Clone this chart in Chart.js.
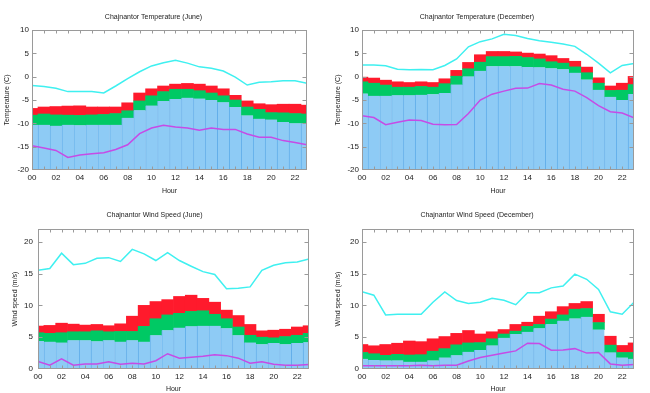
<!DOCTYPE html>
<html><head><meta charset="utf-8">
<script src="https://cdn.jsdelivr.net/npm/chart.js@4/dist/chart.umd.min.js"></script>
<style>
html,body{margin:0;padding:0;background:#fff;}
#wrap{position:relative;width:650px;height:393px;overflow:hidden;background:#fff;}
.p{position:absolute;}
canvas{display:block;}
</style></head><body>
<div id="wrap">
<div class="p" style="left:0;top:0;"><canvas id="c1" width="320" height="196"></canvas></div>
<div class="p" style="left:320px;top:0;"><canvas id="c2" width="330" height="196"></canvas></div>
<div class="p" style="left:0;top:196px;"><canvas id="c3" width="320" height="197"></canvas></div>
<div class="p" style="left:320px;top:196px;"><canvas id="c4" width="330" height="197"></canvas></div>
</div>
<script>
// ---------------- data ----------------
const hours = [0,1,2,3,4,5,6,7,8,9,10,11,12,13,14,15,16,17,18,19,20,21,22,23];
const xTickValues = [0,2,4,6,8,10,12,14,16,18,20,22];
const xTickLabels = ['00','02','04','06','08','10','12','14','16','18','20','22'];
const tempTicks = [-20,-15,-10,-5,0,5,10];
const windTicks = [0,5,10,15,20];

// Temperature, June (C)
const tempJuneLow  = [-10.3,-10.3,-10.5,-10.3,-10.4,-10.3,-10.3,-10.3,-8.8,-7.2,-6.2,-5.2,-4.8,-4.5,-4.7,-5.0,-5.5,-6.5,-8.3,-9.0,-9.2,-9.7,-10.0,-10.0];
const tempJuneMid  = [-8.25,-8.0,-8.2,-8.25,-8.3,-8.2,-8.1,-7.9,-7.3,-5.2,-4.1,-3.2,-2.7,-2.7,-3.0,-3.5,-4.1,-5.0,-6.5,-7.0,-7.7,-7.75,-7.9,-8.0];
const tempJuneHigh = [-6.8,-6.5,-6.4,-6.3,-6.25,-6.5,-6.5,-6.5,-5.6,-3.5,-2.6,-2.0,-1.6,-1.45,-1.6,-2.0,-2.6,-4.0,-5.2,-5.8,-6.0,-5.9,-5.9,-6.1];
const tempJuneMax  = [-1.9,-2.1,-2.5,-3.2,-3.2,-3.2,-3.5,-2.0,-0.4,1.05,2.3,3.0,3.5,2.9,2.1,1.8,1.2,-0.1,-1.8,-1.2,-1.1,-0.9,-0.9,-1.4];
const tempJuneMin  = [-14.8,-15.3,-15.8,-17.3,-16.8,-16.5,-16.3,-15.6,-14.6,-12.2,-11.0,-10.4,-10.8,-11.0,-11.5,-11.0,-11.3,-11.3,-12.3,-13.0,-13.0,-13.7,-14.1,-14.6];

// Temperature, December (C)
const tempDecLow  = [-3.6,-4.1,-4.1,-4.0,-4.0,-3.9,-3.75,-3.5,-1.7,0.05,1.25,2.25,2.25,2.25,2.05,2.0,1.8,1.6,0.85,-0.6,-2.8,-4.3,-5.0,-3.7];
const tempDecMid  = [-1.1,-1.4,-1.8,-2.25,-2.25,-2.1,-2.25,-1.5,0.1,1.7,3.1,4.3,4.3,4.35,4.1,3.8,3.2,2.9,2.1,0.85,-1.4,-2.95,-2.9,-1.7];
const tempDecHigh = [-0.1,-0.3,-0.75,-1.1,-1.25,-1.1,-1.25,-0.45,1.35,3.05,4.7,5.4,5.4,5.3,5.05,4.85,4.5,3.9,3.3,2.05,-0.25,-2.0,-1.4,0.05];
const tempDecMax  = [2.5,2.5,2.35,1.6,1.5,1.55,1.5,2.4,3.8,6.4,7.5,8.1,9.1,8.8,8.2,7.7,7.35,7.0,6.5,4.8,2.9,0.8,2.4,2.8];
const tempDecMin  = [-8.4,-8.75,-10.3,-9.75,-9.3,-9.4,-10.2,-10.3,-10.25,-7.9,-5.0,-3.75,-3.1,-2.5,-2.45,-1.45,-1.8,-2.7,-3.1,-4.5,-6.2,-7.5,-7.8,-8.8];

// Wind speed, June (m/s)
const windJuneLow  = [4.4,4.3,4.15,4.5,4.5,4.35,4.5,4.3,4.5,4.3,5.3,6.1,6.5,6.7,6.8,6.8,6.4,5.3,4.15,3.9,4.1,3.9,4.1,4.2];
const windJuneMid  = [5.7,5.6,5.7,5.85,5.85,6.0,5.85,5.9,5.9,6.7,7.9,8.5,8.75,9.05,9.15,8.6,7.9,6.6,5.3,5.0,4.9,5.1,5.3,5.6];
const windJuneHigh = [6.75,6.85,7.2,7.05,6.9,7.0,6.8,7.1,8.3,10.0,10.6,10.9,11.4,11.6,11.1,10.5,9.25,8.4,7.0,6.0,6.1,6.25,6.6,6.8];
const windJuneMax  = [15.5,15.8,18.2,16.4,16.6,17.4,17.5,16.9,18.8,18.1,17.05,18.3,17.05,16.15,15.3,14.85,12.6,12.7,12.9,15.5,16.3,16.7,16.8,17.3];
const windJuneMin  = [1.2,0.6,1.6,0.6,0.8,0.8,1.15,0.75,0.9,0.8,1.3,2.4,1.7,1.85,2.0,2.25,2.1,1.7,0.9,1.15,0.75,0.6,0.6,0.7];

// Wind speed, December (m/s)
const windDecLow  = [1.6,1.4,1.35,1.35,1.15,1.15,1.35,1.8,2.15,2.7,3.0,3.7,4.9,5.5,5.85,6.4,7.05,7.6,7.95,8.2,6.2,2.6,1.8,1.6];
const windDecMid  = [2.6,2.4,2.15,2.3,2.2,2.25,2.8,3.2,3.8,4.1,4.15,4.75,5.5,5.95,6.7,7.0,7.85,8.5,9.4,9.5,7.3,3.75,2.6,2.6];
const windDecHigh = [3.85,3.65,3.85,4.05,4.4,4.3,4.75,5.1,5.6,6.05,5.5,5.85,6.2,7.0,7.35,8.3,9.0,9.8,10.3,10.6,8.6,5.15,3.7,4.1];
const windDecMax  = [12.15,11.6,8.5,8.6,8.6,8.6,10.5,12.1,10.75,10.3,10.5,11.1,10.8,10.1,12.0,12.0,12.75,13.05,14.9,14.1,12.5,9.0,8.6,10.5];
const windDecMin  = [0.5,0.5,0.5,0.5,0.5,0.6,0.5,0.6,0.6,1.25,1.8,2.15,2.5,2.85,4.05,4.0,2.95,3.0,3.2,2.5,2.6,0.8,0.6,0.7];

// ---------------- styling ----------------
const FONT = "'Liberation Sans', Arial, Helvetica, sans-serif";
const C_BLUE = '#8ecbf5', C_BLUE_EDGE = '#63afea';
const C_GREEN = '#00c964', C_RED = '#ff1a2c';
const C_CYAN = '#3ff0f0', C_MAG = '#c64be6';
const FRAME = '#9a9a9a';

const frameTicks = {
  id: 'frameTicks',
  afterDatasetsDraw(chart) {
    const {ctx, chartArea: a, scales: {x, y}} = chart;
    ctx.save();
    ctx.strokeStyle = FRAME;
    ctx.lineWidth = 1;
    ctx.beginPath();
    const L = Math.round(a.left) + 0.5, R = Math.round(a.right) - 0.5;
    const T = Math.round(a.top) + 0.5, B = Math.round(a.bottom) - 0.5;
    hours.forEach(h => {
      const px = Math.round(x.getPixelForValue(h)) + 0.5;
      if (px <= L + 1 || px >= R - 1) return;
      ctx.moveTo(px, B); ctx.lineTo(px, B - 3);
      ctx.moveTo(px, T); ctx.lineTo(px, T + 3);
    });
    y.ticks.forEach(t => {
      const py = Math.round(y.getPixelForValue(t.value)) + 0.5;
      if (py <= T + 1 || py >= B - 1) return;
      ctx.moveTo(L, py); ctx.lineTo(L + 4, py);
      ctx.moveTo(R, py); ctx.lineTo(R - 4, py);
    });
    ctx.stroke();
    ctx.strokeRect(L, T, R - L, B - T);
    ctx.restore();
  }
};

function pts(vals) { return hours.map((h, i) => ({x: h, y: vals[i]})); }
function seg(lo, hi) { return hours.map((h, i) => ({x: h, y: [Array.isArray(lo) ? lo[i] : lo, hi[i]]})); }

function makeChart(p) {
  const barCommon = {type: 'bar', order: 2, grouped: false, barPercentage: 1, categoryPercentage: 1, clip: 0, borderSkipped: false};
  new Chart(document.getElementById(p.id), {
    type: 'bar',
    data: {
      datasets: [
        Object.assign({}, barCommon, {data: seg(p.base, p.low), backgroundColor: C_BLUE, borderColor: C_BLUE_EDGE, borderWidth: {left: 1, right: 0, top: 0, bottom: 0}}),
        Object.assign({}, barCommon, {data: seg(p.low, p.mid), backgroundColor: C_GREEN, borderWidth: 0}),
        Object.assign({}, barCommon, {data: seg(p.mid, p.high), backgroundColor: C_RED, borderWidth: 0}),
        {type: 'line', order: 0, data: pts(p.max), borderColor: C_CYAN, borderWidth: 1.5, pointRadius: 0, tension: 0, fill: false},
        {type: 'line', order: 0, data: pts(p.min), borderColor: C_MAG, borderWidth: 1.5, pointRadius: 0, tension: 0, fill: false}
      ]
    },
    options: {
      responsive: false,
      animation: false,
      events: [],
      layout: {padding: {left: 0, right: p.padRight, top: 0, bottom: 0}},
      plugins: {
        legend: {display: false},
        tooltip: {enabled: false},
        title: {display: true, text: p.title, color: '#222', font: {family: FONT, size: 7, weight: 'normal', lineHeight: 1}, padding: p.titlePad}
      },
      scales: {
        x: {
          type: 'linear', min: 0, max: 23, offset: false,
          grid: {display: false, drawTicks: false}, border: {display: false},
          afterBuildTicks: s => { s.ticks = xTickValues.map(v => ({value: v})); },
          afterFit: s => { s.height = p.xHeight; },
          ticks: {color: '#222', font: {family: FONT, size: 8}, padding: 3, maxRotation: 0, autoSkip: false,
                  callback: v => xTickLabels[xTickValues.indexOf(v)]},
          title: {display: true, text: 'Hour', color: '#222', font: {family: FONT, size: 7, lineHeight: 1}, padding: {top: 0, bottom: p.xTitlePad}}
        },
        y: {
          type: 'linear', min: p.yMin, max: p.yMax,
          grid: {display: false, drawTicks: false}, border: {display: false},
          afterBuildTicks: s => { s.ticks = p.yTicks.map(v => ({value: v})); },
          afterFit: s => { s.width = p.yWidth; },
          ticks: {color: '#222', font: {family: FONT, size: 8}, padding: p.yTickPad, autoSkip: false},
          title: {display: true, text: p.yTitle, color: '#222', font: {family: FONT, size: 7, lineHeight: 1}, padding: {top: p.yTitlePad, bottom: 0}}
        }
      }
    },
    plugins: [frameTicks]
  });
}

makeChart({id: 'c1', title: 'Chajnantor Temperature (June)', yTitle: 'Temperature (C)', yMin: -20, yMax: 10, yTicks: tempTicks, base: -20,
  low: tempJuneLow, mid: tempJuneMid, high: tempJuneHigh, max: tempJuneMax, min: tempJuneMin,
  yWidth: 32, padRight: 13, titlePad: {top: 14, bottom: 9}, xHeight: 26, xTitlePad: 1.5, yTitlePad: 4, yTickPad: 3});
makeChart({id: 'c2', title: 'Chajnantor Temperature (December)', yTitle: 'Temperature (C)', yMin: -20, yMax: 10, yTicks: tempTicks, base: -20,
  low: tempDecLow, mid: tempDecMid, high: tempDecHigh, max: tempDecMax, min: tempDecMin,
  yWidth: 42, padRight: 16, titlePad: {top: 14, bottom: 9}, xHeight: 26, xTitlePad: 1.5, yTitlePad: 14.5, yTickPad: 3});
makeChart({id: 'c3', title: 'Chajnantor Wind Speed (June)', yTitle: 'Wind speed (m/s)', yMin: 0, yMax: 22, yTicks: windTicks, base: 0,
  low: windJuneLow, mid: windJuneMid, high: windJuneHigh, max: windJuneMax, min: windJuneMin,
  yWidth: 38, padRight: 11, titlePad: {top: 16, bottom: 10}, xHeight: 24, xTitlePad: 0.5, yTitlePad: 11.5, yTickPad: 5});
makeChart({id: 'c4', title: 'Chajnantor Wind Speed (December)', yTitle: 'Wind speed (m/s)', yMin: 0, yMax: 22, yTicks: windTicks, base: 0,
  low: windDecLow, mid: windDecMid, high: windDecHigh, max: windDecMax, min: windDecMin,
  yWidth: 42, padRight: 16, titlePad: {top: 16, bottom: 10}, xHeight: 24, xTitlePad: 0.5, yTitlePad: 14.5, yTickPad: 3});
</script>
</body></html>
